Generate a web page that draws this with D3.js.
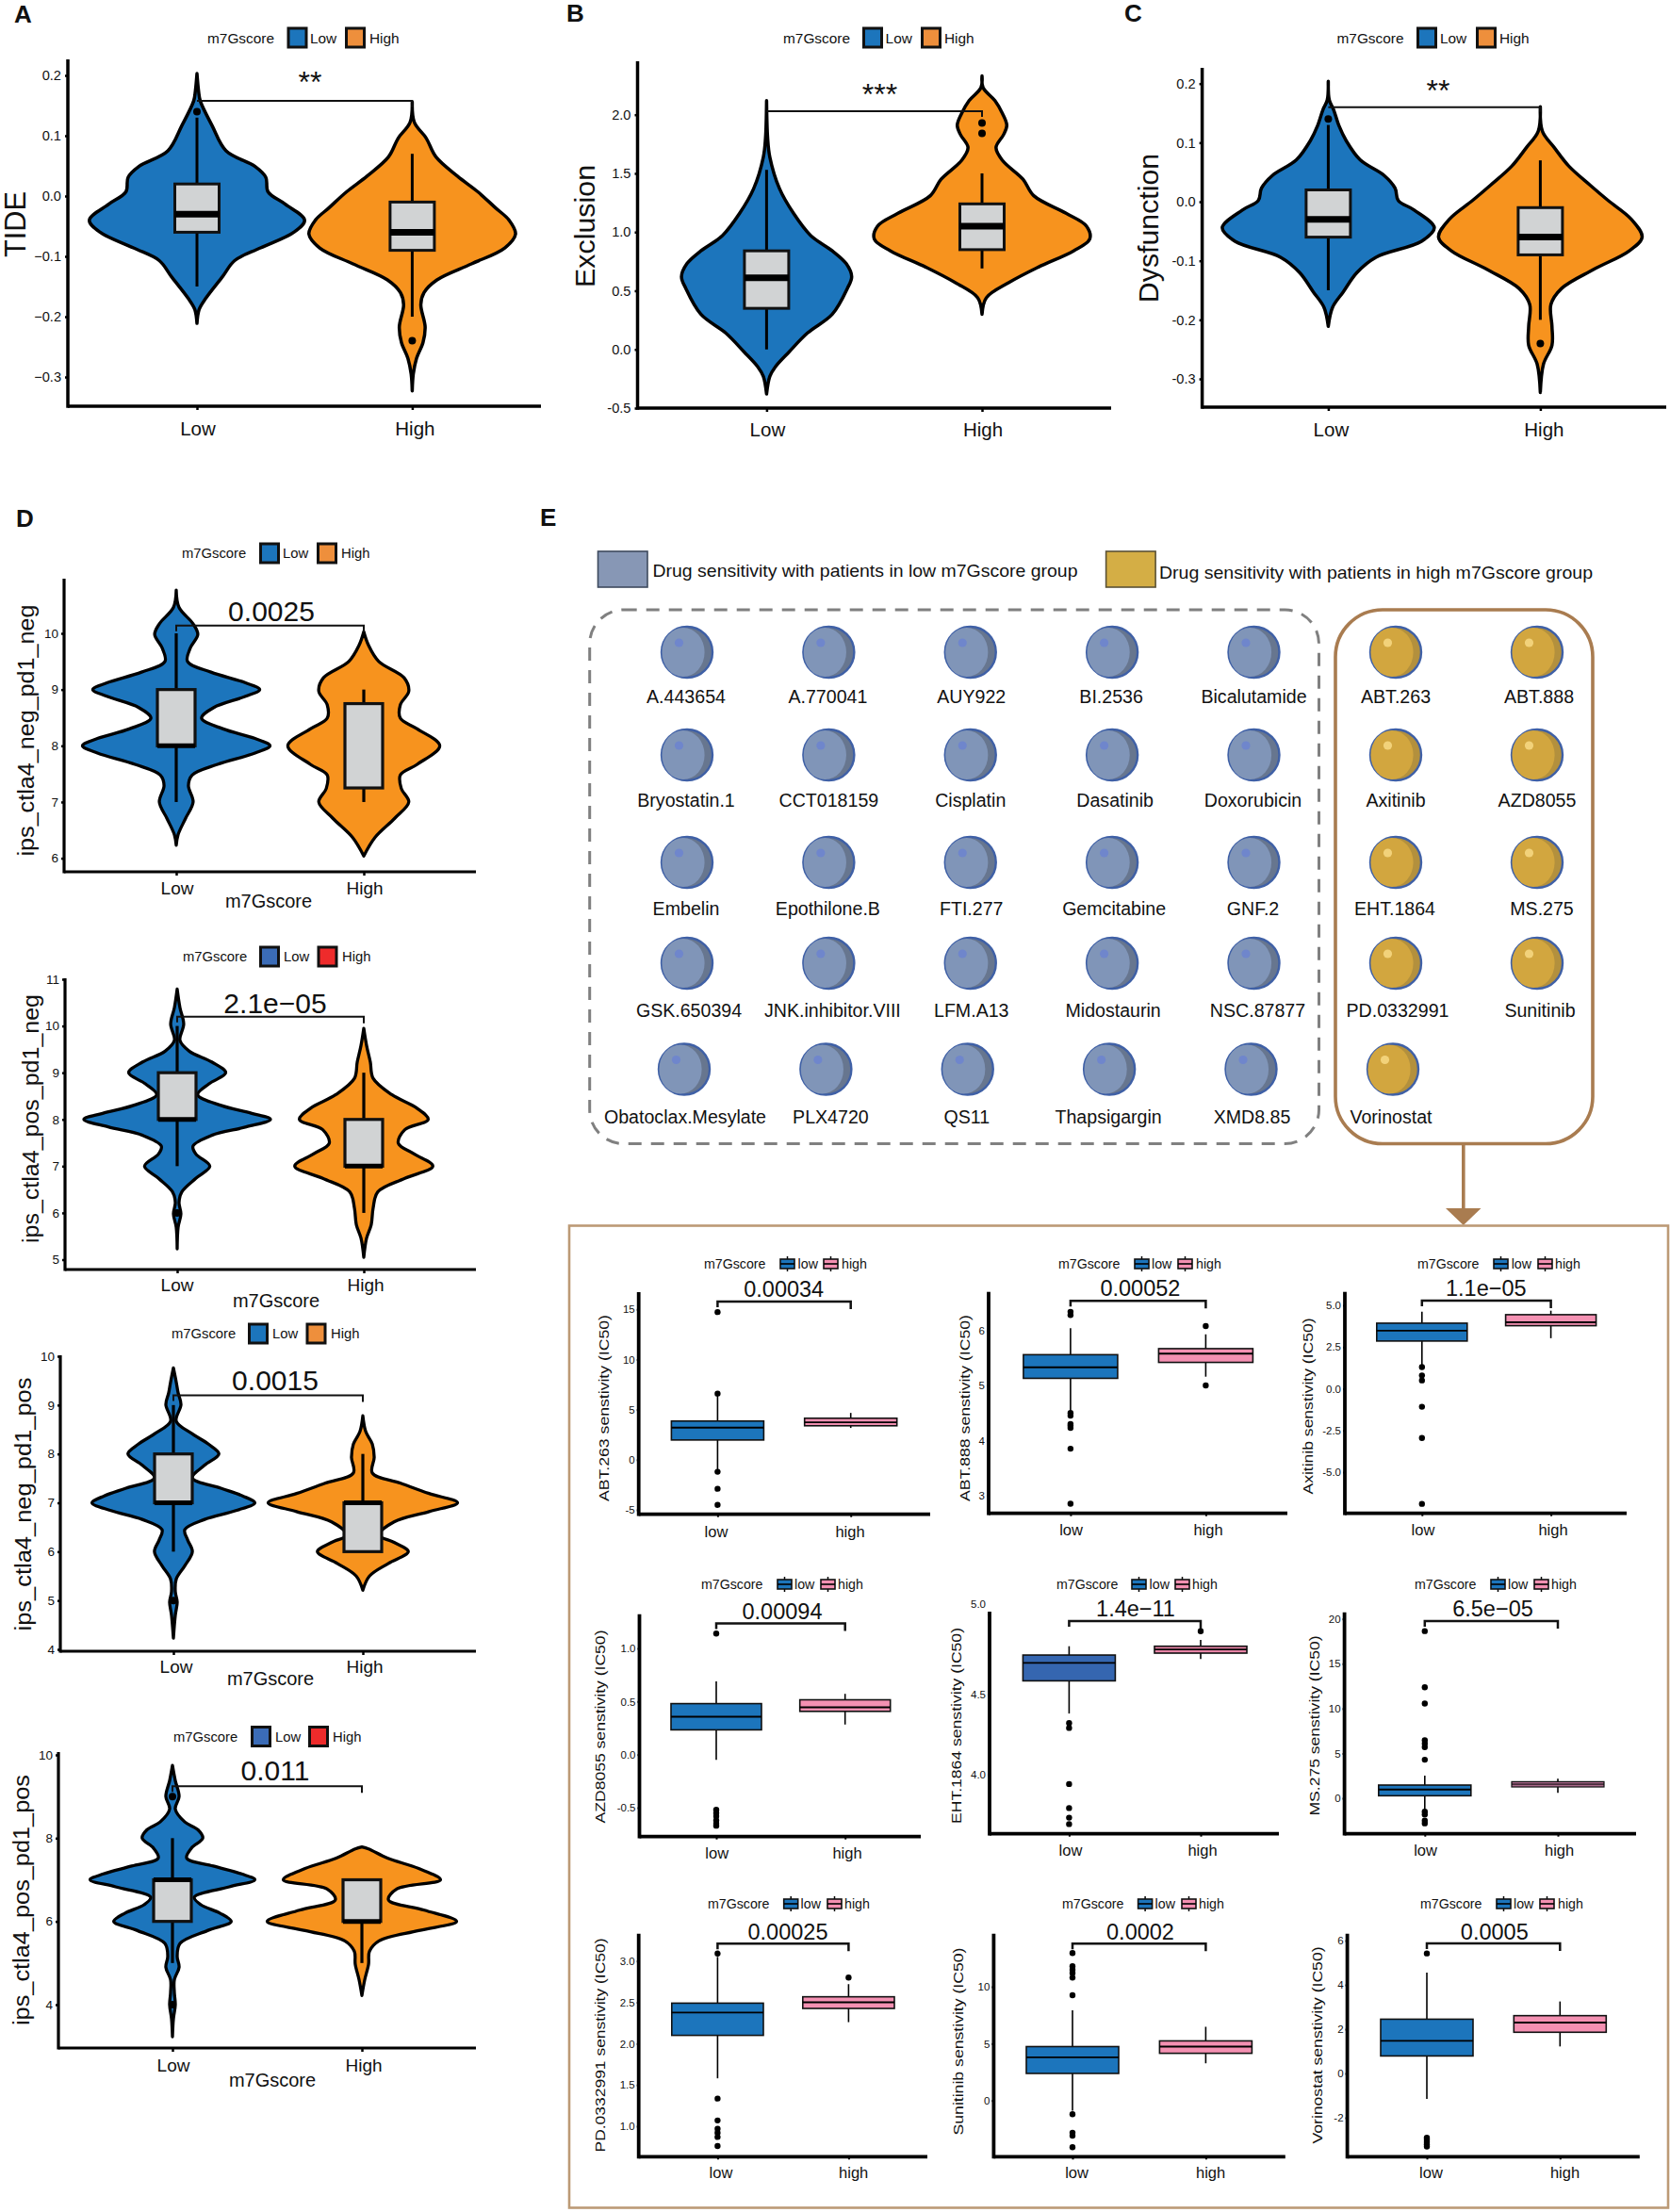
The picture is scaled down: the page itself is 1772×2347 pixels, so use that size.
<!DOCTYPE html>
<html>
<head>
<meta charset="utf-8">
<script src="https://cdn.jsdelivr.net/npm/d3@7/dist/d3.min.js"></script>
<style>
  html, body { margin: 0; padding: 0; background: #fff; }
  text { font-family: "Liberation Sans", Arial, sans-serif; fill: #111; }
</style>
</head>
<body>
<svg id="chart" width="1772" height="2347"></svg>
<script>
// violin outlines: [value, density], density 1 = half the distance between the groups
const tideLow = [[0.203,0],[0.174,0.015],[0.158,0.03],[0.117,0.14],[0.075,0.27],[0.049,0.54],[0.031,0.64],[0.007,0.66],[-0.0135,0.82],[-0.04,1],[-0.06,0.9],[-0.086,0.59],[-0.107,0.35],[-0.133,0.24],[-0.17,0.08],[-0.188,0.02],[-0.211,0]];
const tideHigh = [[0.156,0],[0.122,0.02],[0.096,0.13],[0.065,0.22],[0.033,0.42],[0.007,0.61],[-0.019,0.77],[-0.04,0.9],[-0.063,0.96],[-0.086,0.86],[-0.1125,0.55],[-0.139,0.23],[-0.16,0.11],[-0.18,0.08],[-0.217,0.12],[-0.243,0.1],[-0.269,0.04],[-0.295,0.01],[-0.323,0]];
const exclusionLow = [[2.12,0],[1.8,0.01],[1.64,0.03],[1.37,0.12],[1.16,0.25],[0.97,0.41],[0.84,0.61],[0.73,0.74],[0.62,0.79],[0.52,0.75],[0.3,0.61],[0.14,0.38],[-0.02,0.21],[-0.15,0.08],[-0.23,0.03],[-0.38,0]];
const exclusionHigh = [[2.33,0],[2.23,0.01],[2.12,0.12],[2.01,0.19],[1.91,0.23],[1.83,0.2],[1.72,0.13],[1.61,0.19],[1.45,0.38],[1.31,0.48],[1.16,0.78],[1.05,0.97],[0.94,1],[0.84,0.85],[0.7,0.52],[0.57,0.25],[0.44,0.04],[0.3,0]];
const dysfunctionLow = [[0.204,0],[0.172,0.01],[0.156,0.05],[0.129,0.1],[0.103,0.17],[0.071,0.3],[0.044,0.53],[0.023,0.63],[0.002,0.66],[-0.014,0.81],[-0.044,1],[-0.067,0.88],[-0.094,0.45],[-0.12,0.27],[-0.153,0.14],[-0.179,0.04],[-0.211,0]];
const dysfunctionHigh = [[0.161,0],[0.119,0.02],[0.092,0.13],[0.06,0.27],[0.028,0.47],[0.002,0.64],[-0.03,0.86],[-0.06,0.96],[-0.083,0.84],[-0.115,0.5],[-0.147,0.2],[-0.174,0.1],[-0.211,0.11],[-0.243,0.11],[-0.275,0.03],[-0.323,0]];
const negNegLow = [[10.77,0],[10.46,0.03],[10.17,0.18],[9.98,0.23],[9.74,0.15],[9.5,0.12],[9.31,0.37],[9.12,0.74],[9,0.89],[8.88,0.74],[8.68,0.4],[8.49,0.27],[8.3,0.5],[8.13,0.84],[8,1],[7.87,0.84],[7.67,0.44],[7.48,0.17],[7.29,0.13],[7,0.18],[6.71,0.1],[6.42,0.02],[6.23,0]];
const negNegHigh = [[10.03,0],[9.79,0.05],[9.5,0.16],[9.21,0.43],[8.97,0.48],[8.73,0.39],[8.49,0.39],[8.3,0.57],[8,0.81],[7.67,0.57],[7.48,0.39],[7.24,0.4],[7,0.48],[6.71,0.33],[6.37,0.12],[6.04,0]];
const posNegLow = [[10.79,0],[10.39,0.03],[10.04,0.07],[9.69,0.03],[9.46,0.13],[9.23,0.37],[9,0.52],[8.76,0.34],[8.53,0.22],[8.3,0.47],[8.13,0.8],[8,1],[7.84,0.74],[7.66,0.37],[7.43,0.17],[7.26,0.2],[7,0.35],[6.74,0.2],[6.45,0.05],[6.22,0.02],[5.98,0.04],[5.69,0.01],[5.23,0]];
const posNegHigh = [[9.95,0],[9.58,0.03],[9.23,0.07],[8.88,0.1],[8.53,0.3],[8.24,0.57],[8,0.69],[7.78,0.44],[7.49,0.37],[7.26,0.54],[7,0.74],[6.74,0.44],[6.45,0.15],[6.1,0.1],[5.75,0.08],[5.46,0.03],[5.05,0]];
const negPosLow = [[9.76,0],[9.47,0.03],[9.25,0.05],[9.01,0.08],[8.67,0.03],[8.41,0.2],[8.2,0.37],[8,0.48],[7.77,0.33],[7.51,0.2],[7.3,0.5],[7.14,0.73],[7,0.86],[6.84,0.66],[6.66,0.33],[6.45,0.12],[6.24,0.15],[6,0.2],[5.71,0.12],[5.44,0.03],[5.18,0.02],[4.97,0.04],[4.7,0.02],[4.23,0]];
const negPosHigh = [[8.78,0],[8.46,0.03],[8.2,0.1],[7.93,0.12],[7.61,0.1],[7.4,0.4],[7.19,0.7],[7,1],[6.82,0.7],[6.61,0.33],[6.34,0.17],[6.19,0.33],[6,0.48],[5.76,0.27],[5.5,0.07],[5.21,0]];
const posPosLow = [[9.75,0],[9.38,0.03],[9,0.07],[8.7,0.03],[8.39,0.13],[8.2,0.27],[8,0.32],[7.76,0.2],[7.52,0.15],[7.33,0.43],[7.14,0.73],[7,0.87],[6.83,0.6],[6.58,0.23],[6.4,0.3],[6.2,0.5],[6,0.62],[5.78,0.37],[5.47,0.08],[5.16,0.05],[4.9,0.07],[4.6,0.02],[4.29,0.02],[4,0.03],[3.66,0.01],[3.23,0]];
const posPosHigh = [[7.79,0],[7.74,0.07],[7.52,0.27],[7.27,0.6],[7,0.83],[6.78,0.37],[6.52,0.28],[6.27,0.66],[6,1],[5.78,0.6],[5.53,0.18],[5.28,0.08],[4.97,0.07],[4.6,0.03],[4.22,0]];

// box stats per group: [whisker low, q1, median, q3, whisker high]
const tideBoxes = [[-0.15,-0.06,-0.03,0.02,0.13],[-0.2,-0.09,-0.06,-0.01,0.07]];
const exclusionBoxes = [[0,0.35,0.61,0.84,1.53],[0.69,0.85,1.05,1.24,1.5]];
const dysfunctionBoxes = [[-0.15,-0.06,-0.03,0.02,0.13],[-0.2,-0.09,-0.06,-0.01,0.07]];
const negNegBoxes = [[7,8,8,9,10],[7,7.25,null,8.75,9]];
const posNegBoxes = [[7,8,8,9,10],[6,7,7,8,9]];
const negPosBoxes = [[6,7,7,8,9],[6,6,7,7,8]];
const posPosBoxes = [[5,6,7,7,8],[5,6,6,7,7]];

// outliers per group
const tideOut = [[0.14],[-0.24]];
const exclusionOut = [[],[1.84,1.93]];
const dysfunctionOut = [[0.14],[-0.24]];
const noOut = [[],[]];

const abt263Boxes = [[-1.07,1.97,3.2,3.86,6.6],[3.17,3.39,3.73,4.14,4.67]];
const abt888Boxes = [[4.54,5.13,5.33,5.56,6.04],[5.16,5.42,5.58,5.67,5.93]];
const axitinibBoxes = [[1.3,2.86,3.48,3.93,4.62],[3.03,3.78,3.98,4.44,4.68]];
const azd8055Boxes = [[-0.05,0.233,0.357,0.48,0.69],[0.283,0.407,0.445,0.516,0.572]];
const eht1864Boxes = [[4.38,4.584,4.696,4.745,4.8],[4.72,4.757,4.78,4.8,4.84]];
const ms275Boxes = [[-1.22,0.28,0.98,1.47,2.52],[0.6,1.26,1.57,1.85,2.17]];
const pd0332991Boxes = [[1.58,2.1,2.376,2.49,3.05],[2.26,2.426,2.5,2.567,2.72]];
const sunitinibBoxes = [[-0.9,2.38,3.8,4.74,7.92],[3.27,4.15,4.74,5.24,6.48]];
const vorinostatBoxes = [[-1.15,0.79,1.475,2.45,4.55],[1.22,1.86,2.3,2.61,3.25]];

const abt263Out = [[14.73,6.6,-1.2,-2.9,-4.5],[]];
const abt888Out = [[6.34,6.28,4.5,4.45,4.3,4.27,4.23,3.85,2.85],[6.08,5.0]];
const axitinibOut = [[1.3,0.8,0.5,-1.08,-2.95,-6.9],[]];
const azd8055Out = [[1.14,-0.52,-0.55,-0.58,-0.62,-0.65,-0.67],[]];
const eht1864Out = [[4.32,4.29,3.94,3.79,3.73,3.69],[4.894]];
const ms275Out = [[18.64,12.38,10.56,6.47,6.1,5.7,4.3,-1.5,-1.8,-2.5,-2.8],[]];
const pd0332991Out = [[3.09,1.335,1.07,0.97,0.92,0.87,0.76],[2.8]];
const sunitinibOut = [[12.96,11.8,11.5,11.2,10.8,9.25,-1.2,-2.83,-3.1,-4.1],[]];
const vorinostatOut = [[5.42,-2.9,-3.0,-3.1,-3.2,-3.3],[]];

const violinGroups = ['Low', 'High'];
const boxGroups = ['low', 'high'];
const lowDrugs = [
  'A.443654','A.770041','AUY922','BI.2536','Bicalutamide',
  'Bryostatin.1','CCT018159','Cisplatin','Dasatinib','Doxorubicin',
  'Embelin','Epothilone.B','FTI.277','Gemcitabine','GNF.2',
  'GSK.650394','JNK.inhibitor.VIII','LFM.A13','Midostaurin','NSC.87877',
  'Obatoclax.Mesylate','PLX4720','QS11','Thapsigargin','XMD8.85'
];
const highDrugs = ['ABT.263','ABT.888','Axitinib','AZD8055','EHT.1864','MS.275','PD.0332991','Sunitinib','Vorinostat'];

const BLUE = '#1c75bc';
const ORANGE = '#f7931e';
const PINK = '#f490b2';
const svg = d3.select('#chart');

function label(parent, text, x, y, size, opts = {}) {
  return parent.append('text')
    .attr('x', x).attr('y', y)
    .attr('font-size', size)
    .attr('text-anchor', opts.anchor || 'start')
    .attr('font-weight', opts.weight || null)
    .attr('dominant-baseline', opts.baseline || null)
    .text(text);
}

function rotatedTitle(parent, text, x, y, size, length) {
  const t = parent.append('text')
    .attr('transform', `translate(${x},${y}) rotate(-90)`)
    .attr('text-anchor', 'middle')
    .attr('dominant-baseline', 'central')
    .attr('font-size', size)
    .text(text);
  if (length) t.attr('textLength', length).attr('lengthAdjust', 'spacingAndGlyphs');
}

function drawAxes(g, p, x, y, s) {
  const yAxis = d3.axisLeft(y).tickValues(p.ticks).tickSize(s.tick).tickPadding(s.pad)
    .tickFormat(v => {
      const txt = d3.format(p.fmt)(v);
      return p.minus ? txt : txt.replace('\u2212', '-');
    });
  const gy = g.append('g').attr('transform', `translate(${p.left},0)`).call(yAxis);
  gy.select('.domain').remove();
  gy.selectAll('.tick line').attr('stroke', '#000').attr('stroke-width', s.tickWidth);
  gy.selectAll('.tick text').attr('font-size', s.tickFont).attr('fill', '#111');
  if (p.lastTickUp) gy.selectAll('.tick text').filter(d => d === p.lastTickUp[0]).attr('dy', p.lastTickUp[1]);

  const xAxis = d3.axisBottom(x).tickSize(s.tick + 1).tickFormat('');
  const gx = g.append('g').attr('transform', `translate(0,${p.bottom})`).call(xAxis);
  gx.select('.domain').remove();
  gx.selectAll('.tick line').attr('stroke', '#000').attr('stroke-width', s.tickWidth);

  g.append('line').attr('x1', p.left).attr('x2', p.left).attr('y1', p.top).attr('y2', p.bottom + s.axis / 2)
    .attr('stroke', '#000').attr('stroke-width', s.axis);
  g.append('line').attr('x1', p.left).attr('x2', p.right).attr('y1', p.bottom).attr('y2', p.bottom)
    .attr('stroke', '#000').attr('stroke-width', s.axis);
}

function drawBracket(g, x, groups, y, value, tip, width) {
  g.append('path')
    .attr('d', d3.line()([
      [x(groups[0]), y(value) + tip[0]],
      [x(groups[0]), y(value)],
      [x(groups[1]), y(value)],
      [x(groups[1]), y(value) + tip[1]]
    ]))
    .attr('fill', 'none').attr('stroke', '#111').attr('stroke-width', width);
}

function drawBox(g, cx, halfW, stat, y, s, fill) {
  const [lo, q1, med, q3, hi] = stat;
  g.append('line').attr('x1', cx).attr('x2', cx).attr('y1', y(lo)).attr('y2', y(hi))
    .attr('stroke', '#000').attr('stroke-width', s.whisker);
  g.append('rect').attr('x', cx - halfW).attr('width', halfW * 2)
    .attr('y', y(q3)).attr('height', y(q1) - y(q3))
    .attr('fill', fill).attr('stroke', '#111').attr('stroke-width', s.box);
  if (med !== null) {
    g.append('line').attr('x1', cx - halfW).attr('x2', cx + halfW).attr('y1', y(med)).attr('y2', y(med))
      .attr('stroke', '#000').attr('stroke-width', s.median);
  }
}

function violinLegend(g, p) {
  const l = p.legend;
  label(g, 'm7Gscore', l.title, l.y, l.font, {baseline: 'central'});
  violinGroups.forEach((name, i) => {
    g.append('rect').attr('x', l.keys[i]).attr('y', l.y - 10).attr('width', 19).attr('height', 20)
      .attr('fill', l.fills[i]).attr('stroke', '#111').attr('stroke-width', 3);
    label(g, name, l.texts[i], l.y, l.font, {baseline: 'central'});
  });
}

function drawViolinPanel(p) {
  const g = svg.append('g');
  const y = d3.scaleLinear().domain(p.yDomain).range(p.yRange);
  const x = d3.scalePoint().domain(violinGroups).range(p.xs);
  const density = d3.scaleLinear().domain([0, 1]).range([0, (p.xs[1] - p.xs[0]) / 2]);
  const s = p.style;

  const area = cx => d3.area()
    .y(d => y(d[0]))
    .x0(d => cx - density(d[1]))
    .x1(d => cx + density(d[1]))
    .curve(d3.curveCatmullRom.alpha(0.5));

  violinGroups.forEach((name, i) => {
    g.append('path').datum(p.violins[i])
      .attr('d', area(x(name)))
      .attr('fill', i ? ORANGE : BLUE)
      .attr('stroke', '#000').attr('stroke-width', s.violin).attr('stroke-linejoin', 'round');
  });
  violinGroups.forEach((name, i) => {
    drawBox(g, x(name), s.halfBox, p.boxes[i], y, s, '#d1d3d4');
    g.selectAll(null).data(p.out[i]).enter().append('circle')
      .attr('cx', x(name)).attr('cy', d => y(d)).attr('r', 4).attr('fill', '#000');
  });

  drawAxes(g, p, x, y, s);
  drawBracket(g, x, violinGroups, y, p.bracket, p.tips, 2);
  label(g, p.sig, p.sigX, p.sigY, p.sigFont, {anchor: 'middle', baseline: p.sigBaseline});
  violinGroups.forEach((name, i) => {
    label(g, name, x(name) + p.xShift[i], p.xLabelY, p.xLabelFont, {anchor: 'middle', baseline: 'central'});
  });
  rotatedTitle(g, p.title, p.titleX, p.titleY, p.titleFont, p.titleLen);
  if (p.xTitle) label(g, 'm7Gscore', p.xTitle[0], p.xTitle[1], 20, {anchor: 'middle', baseline: 'central'});
  violinLegend(g, p);
}

function drawBoxPanel(p) {
  const g = svg.append('g');
  const y = d3.scaleLinear().domain(p.yDomain).range(p.yRange);
  const x = d3.scalePoint().domain(boxGroups).range(p.xs);
  const s = {tick: 2, pad: 2, tickWidth: 2, tickFont: 11.5, axis: 3.8, whisker: 1.6, box: 1.6, median: 1.9};
  const fills = p.fills || [BLUE, PINK];

  boxGroups.forEach((name, i) => {
    const boxStyle = (p.thinHigh && i === 1) ? {...s, box: 1.2, median: 1} : s;
    drawBox(g, x(name), p.halfBox, p.boxes[i], y, boxStyle, fills[i]);
    g.selectAll(null).data(p.out[i]).enter().append('circle')
      .attr('cx', x(name)).attr('cy', d => y(d)).attr('r', 3.2).attr('fill', '#000');
  });
  drawAxes(g, p, x, y, s);
  drawBracket(g, x, boxGroups, y, p.bracket, [6, 8], 2.5);
  label(g, p.p, p.pX, p.pY, 23.5, {anchor: 'middle', baseline: 'central'});
  boxGroups.forEach((name, i) => {
    label(g, name, p.xLabels[i], p.xLabelY, 16.5, {anchor: 'middle', baseline: 'central'});
  });
  rotatedTitle(g, p.title, p.titleX, p.titleY, 14.5, p.titleLen);

  const l = p.legend;
  label(g, 'm7Gscore', l[0], p.legendY, 14.2, {baseline: 'central'});
  boxGroups.forEach((name, i) => {
    const kx = l[1 + i * 2];
    g.append('line').attr('x1', kx + 7.5).attr('x2', kx + 7.5).attr('y1', p.legendY - 8).attr('y2', p.legendY + 8)
      .attr('stroke', '#000').attr('stroke-width', 1.5);
    g.append('rect').attr('x', kx).attr('y', p.legendY - 5).attr('width', 15).attr('height', 10)
      .attr('fill', i ? PINK : BLUE).attr('stroke', '#111').attr('stroke-width', 1.6);
    g.append('line').attr('x1', kx).attr('x2', kx + 15).attr('y1', p.legendY).attr('y2', p.legendY)
      .attr('stroke', '#000').attr('stroke-width', 1.6);
    label(g, name, l[2 + i * 2], p.legendY, 14.2, {baseline: 'central'});
  });
}

const bigStyle = {tick: 3, pad: 4, tickWidth: 2.5, tickFont: 14.6, axis: 3.5, violin: 3.5, whisker: 3, box: 3, median: 7, halfBox: 23.5};
const smallStyle = {tick: 3, pad: 3, tickWidth: 2.5, tickFont: 13.5, axis: 3.2, violin: 3.3, whisker: 3.2, box: 3.2, median: 5, halfBox: 20};

const violinPanels = [
  {violins: [tideLow, tideHigh], boxes: tideBoxes, out: tideOut, ticks: [0.2,0.1,0,-0.1,-0.2,-0.3], fmt: '.1f', minus: true,
    yDomain: [0.2,-0.3], yRange: [80,400], xs: [209,437.4], left: 72, right: 574, top: 63, bottom: 431,
    bracket: 0.158, tips: [0,7], sig: '**', sigX: 329, sigY: 98, sigFont: 32,
    xShift: [1,3], xLabelY: 454, xLabelFont: 20.5, title: 'TIDE', titleX: 16, titleY: 238, titleFont: 30.7, style: bigStyle,
    legend: {title: 220, y: 40, font: 15.4, keys: [306,367.5], texts: [329,392], fills: [BLUE,'#ee8f3c']}},
  {violins: [exclusionLow, exclusionHigh], boxes: exclusionBoxes, out: exclusionOut, ticks: [2,1.5,1,0.5,0,-0.5], fmt: '.1f',
    yDomain: [2,-0.5], yRange: [121.7,433], xs: [813.4,1042], left: 676.5, right: 1179, top: 65, bottom: 433,
    bracket: 2.03, tips: [0,6], sig: '***', sigX: 933.5, sigY: 111, sigFont: 32,
    xShift: [1,1], xLabelY: 455, xLabelFont: 20.5, title: 'Exclusion', titleX: 619.5, titleY: 240, titleFont: 30.4, style: bigStyle,
    legend: {title: 831, y: 40, font: 15.4, keys: [916.5,978.5], texts: [939.6,1002], fills: [BLUE,'#ee8f3c']}},
  {violins: [dysfunctionLow, dysfunctionHigh], boxes: dysfunctionBoxes, out: dysfunctionOut, ticks: [0.2,0.1,0,-0.1,-0.2,-0.3], fmt: '.1f',
    yDomain: [0.2,-0.3], yRange: [88.7,402], xs: [1409.4,1634.4], left: 1275.6, right: 1768, top: 72, bottom: 432,
    bracket: 0.16, tips: [0,5], sig: '**', sigX: 1526, sigY: 107, sigFont: 32,
    xShift: [3,4], xLabelY: 455, xLabelFont: 20.5, title: 'Dysfunction', titleX: 1218.6, titleY: 242, titleFont: 30.3, style: bigStyle,
    legend: {title: 1418.5, y: 40, font: 15.4, keys: [1504.5,1567.5], texts: [1528,1591], fills: [BLUE,'#ee8f3c']}},
  {violins: [negNegLow, negNegHigh], boxes: negNegBoxes, out: noOut, ticks: [10,9,8,7,6], fmt: 'd',
    yDomain: [10,6], yRange: [672,910.6], xs: [187,386], left: 68, right: 505, top: 614, bottom: 925,
    bracket: 10.14, tips: [6,7], sig: '0.0025', sigX: 288, sigY: 648, sigFont: 30, sigBaseline: 'central',
    xShift: [1,1], xLabelY: 942, xLabelFont: 19, title: 'ips_ctla4_neg_pd1_neg', titleX: 28, titleY: 775, titleFont: 23, titleLen: 267, xTitle: [285,956], style: smallStyle,
    legend: {title: 193, y: 587, font: 14.8, keys: [276.5,337.5], texts: [300,362], fills: [BLUE,'#ee8f3c']}},
  {violins: [posNegLow, posNegHigh], boxes: posNegBoxes, out: [[6],[]], ticks: [11,10,9,8,7,6,5], fmt: 'd',
    yDomain: [11,5], yRange: [1039,1336.5], xs: [188,386], left: 69, right: 505, top: 1038, bottom: 1347,
    bracket: 10.2, tips: [6,7], sig: '2.1e\u221205', sigX: 292, sigY: 1064, sigFont: 30, sigBaseline: 'central',
    xShift: [0,2], xLabelY: 1363.5, xLabelFont: 19, title: 'ips_ctla4_pos_pd1_neg', titleX: 33, titleY: 1187, titleFont: 23, titleLen: 264, xTitle: [293,1379.6], style: smallStyle,
    legend: {title: 194, y: 1015, font: 14.8, keys: [276.5,338], texts: [301,363], fills: ['#3b6cb7','#ee2b2b']}},
  {violins: [negPosLow, negPosHigh], boxes: negPosBoxes, out: [[5],[]], ticks: [10,9,8,7,6,5,4], fmt: 'd',
    yDomain: [10,4], yRange: [1439,1750], xs: [184,385], left: 64, right: 505, top: 1438, bottom: 1752,
    bracket: 9.2, tips: [6,7], sig: '0.0015', sigX: 292, sigY: 1464, sigFont: 30, sigBaseline: 'central',
    xShift: [3,2], xLabelY: 1768, xLabelFont: 19, title: 'ips_ctla4_neg_pd1_pos', titleX: 25, titleY: 1596, titleFont: 23, titleLen: 269, xTitle: [287,1780.6], style: smallStyle,
    legend: {title: 182, y: 1415, font: 14.8, keys: [264.5,326], texts: [289,351], fills: [BLUE,'#ee8f3c']}},
  {violins: [posPosLow, posPosHigh], boxes: posPosBoxes, out: [[9,4],[]], ticks: [10,8,6,4], fmt: 'd',
    yDomain: [10,4], yRange: [1862,2127], xs: [183,384], left: 62, right: 505, top: 1859, bottom: 2173,
    bracket: 9.25, tips: [6,7], sig: '0.011', sigX: 292, sigY: 1878, sigFont: 30, sigBaseline: 'central',
    xShift: [1,2], xLabelY: 2191, xLabelFont: 19, title: 'ips_ctla4_pos_pd1_pos', titleX: 23, titleY: 2016, titleFont: 23, titleLen: 266, xTitle: [289,2207], style: smallStyle,
    legend: {title: 184, y: 1842.5, font: 14.8, keys: [267.5,328.5], texts: [292,353], fills: ['#3b6cb7','#ee2b2b']}}
];

const boxPanels = [
  {boxes: abt263Boxes, out: abt263Out, ticks: [15,10,5,0,-5], fmt: 'd', yDomain: [15,-5], yRange: [1389.3,1602], xs: [761.4,902.7], left: 677.7, right: 987, top: 1371, bottom: 1606.7,
    halfBox: 49, bracket: 15.77, p: '0.00034', pX: 831.7, pY: 1368, xLabels: [760,902], xLabelY: 1625, title: 'ABT.263 senstivity (IC50)', titleX: 641, titleY: 1494, titleLen: 198,
    legendY: 1341, legend: [747,828,846.6,874,893]},
  {boxes: abt888Boxes, out: abt888Out, ticks: [6,5,4,3], fmt: 'd', yDomain: [6,3], yRange: [1411.7,1586.7], xs: [1135.9,1279.4], left: 1049, right: 1366, top: 1370.7, bottom: 1605.7,
    halfBox: 50, bracket: 6.54, p: '0.00052', pX: 1209.9, pY: 1367, xLabels: [1136.6,1282], xLabelY: 1623, title: 'ABT.888 senstivity (IC50)', titleX: 1023.8, titleY: 1494, titleLen: 198,
    legendY: 1341, legend: [1123,1204,1222,1250,1269]},
  {boxes: axitinibBoxes, out: axitinibOut, ticks: [5,2.5,0,-2.5,-5], fmt: '.1f', yDomain: [5,-5], yRange: [1385,1562], xs: [1508.8,1645.6], left: 1427, right: 1726, top: 1370.7, bottom: 1605.7,
    halfBox: 48, bracket: 5.28, p: '1.1e\u221205', pX: 1576.8, pY: 1367, xLabels: [1510,1648], xLabelY: 1623, title: 'Axitinib senstivity (IC50)', titleX: 1388, titleY: 1492, titleLen: 187,
    legendY: 1341, legend: [1504,1585,1603.7,1632,1650]},
  {boxes: azd8055Boxes, out: azd8055Out, ticks: [1,0.5,0,-0.5], fmt: '.1f', yDomain: [1,-0.5], yRange: [1749,1918], xs: [760,896.7], left: 678.5, right: 977, top: 1712.7, bottom: 1948.7,
    halfBox: 48, bracket: 1.236, p: '0.00094', pX: 830, pY: 1710, xLabels: [760.7,899], xLabelY: 1966, title: 'AZD8055 senstivity (IC50)', titleX: 637.4, titleY: 1832, titleLen: 205,
    legendY: 1681, legend: [744,825,843,871,889]},
  {boxes: eht1864Boxes, out: eht1864Out, ticks: [5,4.5,4], fmt: '.1f', yDomain: [4.5,4], yRange: [1797.7,1882.7], xs: [1134.4,1274], left: 1050, right: 1357, top: 1710, bottom: 1945.7, lastTickUp: [5,'-0.6em'],
    halfBox: 49, bracket: 4.957, p: '1.4e\u221211', pX: 1205, pY: 1707, xLabels: [1136,1276], xLabelY: 1962.7, title: 'EHT.1864 senstivity (IC50)', titleX: 1014.8, titleY: 1831, titleLen: 208,
    legendY: 1681, legend: [1121,1201,1219.6,1247,1265], fills: ['#3566b0','#e884a6']},
  {boxes: ms275Boxes, out: ms275Out, ticks: [20,15,10,5,0], fmt: 'd', yDomain: [20,0], yRange: [1717.7,1908], xs: [1511.8,1653], left: 1426.6, right: 1736, top: 1710.7, bottom: 1945.7,
    halfBox: 49, bracket: 19.75, p: '6.5e\u221205', pX: 1584, pY: 1707, xLabels: [1512.6,1654.6], xLabelY: 1962.7, title: 'MS.275 senstivity (IC50)', titleX: 1394.5, titleY: 1831, titleLen: 191,
    legendY: 1681, legend: [1501,1582,1600,1628,1646], fills: [BLUE,'#a8688a'], thinHigh: true},
  {boxes: pd0332991Boxes, out: pd0332991Out, ticks: [3,2.5,2,1.5,1], fmt: '.1f', yDomain: [3,1], yRange: [2080.7,2256], xs: [761.4,900.4], left: 677.7, right: 984, top: 2051.7, bottom: 2288.3,
    halfBox: 48.6, bracket: 3.21, p: '0.00025', pX: 836, pY: 2050, xLabels: [765,905.7], xLabelY: 2305, title: 'PD.0332991 senstivity (IC50)', titleX: 637.4, titleY: 2170, titleLen: 227,
    legendY: 2020, legend: [751,831.7,849.6,878,896]},
  {boxes: sunitinibBoxes, out: sunitinibOut, ticks: [10,5,0], fmt: 'd', yDomain: [10,0], yRange: [2108,2228.7], xs: [1138,1279.4], left: 1054.4, right: 1363.8, top: 2051.7, bottom: 2288.3,
    halfBox: 49, bracket: 13.8, p: '0.0002', pX: 1210, pY: 2050, xLabels: [1142.6,1284.6], xLabelY: 2305, title: 'Sunitinib senstivity (IC50)', titleX: 1017, titleY: 2166, titleLen: 199,
    legendY: 2020, legend: [1127,1207.6,1225.6,1254,1272]},
  {boxes: vorinostatBoxes, out: vorinostatOut, ticks: [6,4,2,0,-2], fmt: 'd', yDomain: [6,-2], yRange: [2059,2247], xs: [1514,1655.3], left: 1429.6, right: 1739.8, top: 2051.7, bottom: 2288.3,
    halfBox: 49, bracket: 5.87, p: '0.0005', pX: 1585.8, pY: 2050, xLabels: [1518.5,1660.5], xLabelY: 2305, title: 'Vorinostat senstivity (IC50)', titleX: 1397.5, titleY: 2170, titleLen: 209,
    legendY: 2020, legend: [1507,1588,1606,1634,1653]}
];

violinPanels.forEach(drawViolinPanel);

// panel E overview: two groups of drug balls
function drawBall(g, cx, cy, colors) {
  g.append('circle').attr('cx', cx).attr('cy', cy).attr('r', 27)
    .attr('fill', colors.shade).attr('stroke', '#3f60a6').attr('stroke-width', 2.4);
  g.append('ellipse').attr('cx', cx - 4).attr('cy', cy).attr('rx', 22.6).attr('ry', 26)
    .attr('fill', colors.base);
  g.append('circle').attr('cx', cx - 8.5).attr('cy', cy - 10).attr('r', 4.6).attr('fill', colors.spot);
}

function drawDrugs(names, cols, rows, colors, nudges) {
  const x = d3.scalePoint().domain(d3.range(cols.length)).range([cols[0], cols[cols.length - 1]]);
  const g = svg.append('g');
  names.forEach((name, i) => {
    const c = i % cols.length;
    const r = Math.floor(i / cols.length);
    const shift = r === 4 ? -3 : 0;
    drawBall(g, x(c) + shift, rows[r].ball, colors);
    label(g, name, x(c) + shift + nudges[i], rows[r].text, 19.6, {anchor: 'middle', baseline: 'central'});
  });
}

const drugRows = [{ball: 692, text: 739}, {ball: 801, text: 849}, {ball: 915, text: 964}, {ball: 1022, text: 1072}, {ball: 1134.5, text: 1185}];
const lowNudge = [-1,-1,1,-1,0, -1,0,0,3,-1, -1,-1,1,2,-1, 2,4,1,1,4, 1,5,-1,-1,1];
const highNudge = [0,2, 0,0, -1,5, 2,3, -2];

const e = svg.append('g');
e.append('rect').attr('x', 634.5).attr('y', 585).attr('width', 52.5).attr('height', 38)
  .attr('fill', '#8797b5').attr('stroke', '#3e4a5e').attr('stroke-width', 1.6);
e.append('rect').attr('x', 1173.6).attr('y', 585).attr('width', 52.5).attr('height', 38)
  .attr('fill', '#d4ae45').attr('stroke', '#5a5236').attr('stroke-width', 1.6);
label(e, 'Drug sensitivity with patients in low m7Gscore group', 692.5, 605, 18.5, {baseline: 'central'})
  .attr('textLength', 451).attr('lengthAdjust', 'spacingAndGlyphs');
label(e, 'Drug sensitivity with patients in high m7Gscore group', 1230, 607.5, 18.5, {baseline: 'central'})
  .attr('textLength', 460).attr('lengthAdjust', 'spacingAndGlyphs');
e.append('rect').attr('x', 625.7).attr('y', 647).attr('width', 773.8).attr('height', 566.5).attr('rx', 36)
  .attr('fill', 'none').attr('stroke', '#808080').attr('stroke-width', 3).attr('stroke-dasharray', '14 10');
e.append('rect').attr('x', 1417).attr('y', 647).attr('width', 273).attr('height', 566.5).attr('rx', 50)
  .attr('fill', 'none').attr('stroke', '#a97c50').attr('stroke-width', 3.6);
e.append('line').attr('x1', 1552.8).attr('x2', 1552.8).attr('y1', 1213).attr('y2', 1284)
  .attr('stroke', '#a97c50').attr('stroke-width', 3.6);
e.append('path').attr('d', d3.line()([[1534,1282],[1571.5,1282],[1552.8,1300]])).attr('fill', '#a97c50');
e.append('rect').attr('x', 604).attr('y', 1300.5).attr('width', 1166).attr('height', 1042)
  .attr('fill', 'none').attr('stroke', '#bc9a76').attr('stroke-width', 2.6);

drawDrugs(lowDrugs, [729,879.5,1029.8,1180,1330.5], drugRows, {base: '#8095b8', shade: '#67768f', spot: '#6f86cc'}, lowNudge);
drawDrugs(highDrugs, [1481,1631], drugRows, {base: '#d2a63f', shade: '#b3903d', spot: '#f2d27a'}, highNudge);

boxPanels.forEach(drawBoxPanel);

// panel letters
const letters = ['A', 'B', 'C', 'D', 'E'];
const letterPos = [[15,24],[601,23],[1193,23],[17,559],[573,558]];
letters.forEach((t, i) => label(svg, t, letterPos[i][0], letterPos[i][1], 26, {weight: 'bold'}));
</script>
</body>
</html>
